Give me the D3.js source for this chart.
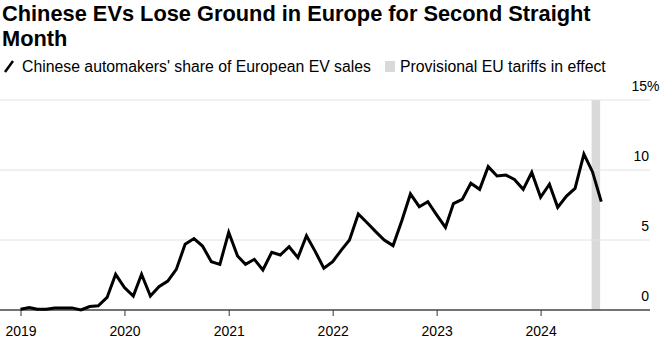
<!DOCTYPE html>
<html>
<head>
<meta charset="utf-8">
<script src="https://cdn.jsdelivr.net/npm/d3@7"></script>
<style>
  html, body { margin: 0; padding: 0; background: #fff; }
  svg { display: block; font-family: "Liberation Sans", Arial, sans-serif; }
</style>
</head>
<body>
<svg id="chart" width="668" height="344"></svg>
<script>
// ---- Data ----
const startMonth = "2019-01";
const shareValues = [
  // 2019
  0.05, 0.17, 0.05, 0.05, 0.15, 0.15, 0.15, 0.0, 0.25, 0.3, 0.9, 2.55,
  // 2020
  1.6, 1.0, 2.55, 1.0, 1.67, 2.07, 2.9, 4.7, 5.1, 4.57, 3.45, 3.26,
  // 2021
  5.55, 3.86, 3.26, 3.62, 2.86, 4.12, 3.93, 4.52, 3.74, 5.31, 4.17, 2.98,
  // 2022
  3.45, 4.3, 5.0, 6.86, 6.25, 5.6, 5.0, 4.6, 6.4, 8.29, 7.38, 7.74,
  // 2023
  6.8, 5.9, 7.6, 7.9, 9.05, 8.62, 10.24, 9.57, 9.64, 9.33, 8.62, 9.83,
  // 2024
  8.05, 8.98, 7.33, 8.14, 8.69, 11.14, 9.88, 7.74
];
const yearTicks = ["2019", "2020", "2021", "2022", "2023", "2024"];
const yTicks = [0, 5, 10, 15];
const tariffPeriod = ["2024-06-28", "2024-07-28"];
const titleLines = ["Chinese EVs Lose Ground in Europe for Second Straight", "Month"];
const legendLine = "Chinese automakers' share of European EV sales";
const legendBand = "Provisional EU tariffs in effect";

// ---- Build ----
const parseMonth = d3.timeParse("%Y-%m");
const parseDay = d3.timeParse("%Y-%m-%d");
const start = parseMonth(startMonth);
const series = shareValues.map((v, i) => ({ date: d3.timeMonth.offset(start, i), value: v }));

const svg = d3.select("#chart");
const x = d3.scaleTime()
  .domain([parseMonth("2019-01"), parseMonth("2024-01")])
  .range([20.5, 540.6]);
const y = d3.scaleLinear().domain([0, 15]).range([310, 100]);
const plotRight = 650;

// Title
const title = svg.append("text")
  .attr("x", 2).attr("y", 21)
  .attr("font-weight", "bold").attr("font-size", 21.8).attr("fill", "#000");
titleLines.forEach((t, i) => {
  title.append("tspan").attr("x", 2).attr("dy", i === 0 ? 0 : 25).text(t);
});

// Legend
const lg = svg.append("g");
lg.append("line").attr("x1", 5).attr("y1", 72).attr("x2", 13).attr("y2", 61)
  .attr("stroke", "#000").attr("stroke-width", 2.5);
lg.append("text").attr("x", 22).attr("y", 72).attr("font-size", 15.8).attr("fill", "#000").text(legendLine);
lg.append("rect").attr("x", 385).attr("y", 61).attr("width", 10).attr("height", 11).attr("fill", "#d9d9d9");
lg.append("text").attr("x", 400).attr("y", 72).attr("font-size", 15.8).attr("fill", "#000").text(legendBand);

// Band
svg.append("rect")
  .attr("x", x(parseDay(tariffPeriod[0])))
  .attr("width", x(parseDay(tariffPeriod[1])) - x(parseDay(tariffPeriod[0])))
  .attr("y", y(15)).attr("height", y(0) - y(15))
  .attr("fill", "#d9d9d9");

// Gridlines
svg.append("g").selectAll("line")
  .data(yTicks.filter(d => d > 0))
  .join("line")
  .attr("x1", 0).attr("x2", plotRight)
  .attr("y1", d => y(d)).attr("y2", d => y(d))
  .attr("stroke", "#e2e2e2").attr("stroke-width", 1);

// Y labels
const yl = svg.append("g").selectAll("text")
  .data(yTicks)
  .join("text")
  .attr("y", d => y(d) - 9)
  .attr("font-size", 14)
  .attr("fill", "#000");
yl.filter(d => d !== 15).attr("x", 649).attr("text-anchor", "end").text(d => d);
yl.filter(d => d === 15).each(function(d) {
  const t = d3.select(this);
  const num = t.append("tspan").text(d);
  t.append("tspan").text("%");
  const w = num.node().getComputedTextLength();
  t.attr("x", 647 - w);
});

// X axis
const xAxis = d3.axisBottom(x)
  .tickValues(yearTicks.map(t => d3.timeParse("%Y")(t)))
  .tickFormat(d3.timeFormat("%Y"))
  .tickSize(6).tickSizeOuter(0);
const gx = svg.append("g").attr("transform", `translate(0,${y(0)})`).call(xAxis);
gx.select(".domain").remove();
gx.selectAll(".tick line").attr("stroke", "#333");
gx.selectAll(".tick text").attr("font-size", 14).attr("fill", "#000")
  .attr("font-family", "Liberation Sans, Arial, sans-serif").attr("dy", 0).attr("y", 26);
svg.append("line").attr("x1", 0).attr("x2", plotRight).attr("y1", y(0)).attr("y2", y(0))
  .attr("stroke", "#444").attr("stroke-width", 1.5);

// Line
const line = d3.line().x(d => x(d.date)).y(d => y(d.value)).curve(d3.curveLinear);
svg.append("path").datum(series)
  .attr("d", line)
  .attr("fill", "none").attr("stroke", "#000").attr("stroke-width", 3)
  .attr("stroke-linejoin", "miter").attr("stroke-linecap", "butt");
</script>
</body>
</html>
